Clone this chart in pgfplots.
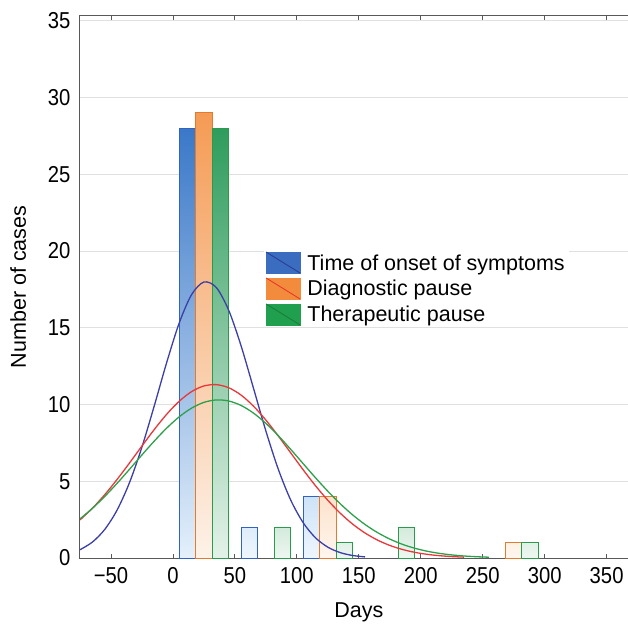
\documentclass[border=0pt]{standalone}
\usepackage{fontspec}
\setmainfont{Liberation Sans}
\newfontfamily\tickfont{Liberation Sans}[FakeStretch=0.88]
\usepackage{pgfplots}
\pgfplotsset{compat=1.18}
\definecolor{bTop}{HTML}{3A78C8}
\definecolor{bBot}{HTML}{E4F0FB}
\definecolor{bSTop}{HTML}{CDE3F7}
\definecolor{bSBot}{HTML}{EEF6FD}
\definecolor{oTop}{HTML}{F59B55}
\definecolor{oBot}{HTML}{FDF2E8}
\definecolor{oSTop}{HTML}{FCE3CC}
\definecolor{oSBot}{HTML}{FFF6EE}
\definecolor{gTop}{HTML}{2E9C5C}
\definecolor{gBot}{HTML}{E3F2E8}
\definecolor{gSTop}{HTML}{D3EADB}
\definecolor{gSBot}{HTML}{EEF7F1}
\definecolor{bEdge}{HTML}{3263C2}
\definecolor{oEdge}{HTML}{E27B2F}
\definecolor{gEdge}{HTML}{2A9B4A}
\definecolor{bLine}{HTML}{3B3FA6}
\definecolor{rLine}{HTML}{E8383A}
\definecolor{gLine}{HTML}{2EA04C}
\definecolor{bLeg}{HTML}{3A6CC0}
\definecolor{oLeg}{HTML}{F28B3C}
\definecolor{gLeg}{HTML}{20A04E}
\definecolor{bLegL}{HTML}{2A3A90}
\definecolor{oLegL}{HTML}{E8302C}
\definecolor{gLegL}{HTML}{1A7A3A}
\begin{document}
\begin{tikzpicture}
\begin{axis}[
  scale only axis, width=557.6pt, height=542pt,
  xmin=-75, xmax=375, ymin=0, ymax=35.3,
  xtick={-50,0,50,100,150,200,250,300,350},
  xticklabels={−50,0,50,100,150,200,250,300,350},
  ytick={0,5,10,15,20,25,30,35},
  yticklabels={0,5,10,15,20,25,30,35},
  ymajorgrids, grid style={black!12, line width=0.8pt},
  tick align=inside, major tick length=4pt,
  ytick style={draw=none},
  xtick style={black!65, line width=0.8pt},
  axis line style={black!65, line width=1pt},
  tick label style={font=\tickfont\fontsize{23}{27}\selectfont},
  xticklabel style={yshift=-6pt},
  yticklabel style={xshift=-6pt},
  xlabel={Days}, ylabel={Number of cases},
  label style={font=\fontsize{21.5}{25}\selectfont},
  xlabel style={yshift=-12pt},
  ylabel style={yshift=15pt},
  legend style={at={(axis cs:73,20.1)}, anchor=north west, draw=none, fill=white,
    font=\fontsize{21.5}{25}\selectfont, inner sep=2pt, row sep=4pt, column sep=5pt},
  legend cell align=left,
]
\addlegendimage{legend image code/.code={
  \fill[bLeg] (0pt,-10pt) rectangle (34pt,11pt);
  \draw[bLegL, line width=0.8pt] (0pt,11pt) -- (34pt,-10pt);}}
\addlegendentry{Time of onset of symptoms}
\addlegendimage{legend image code/.code={
  \fill[oLeg] (0pt,-10pt) rectangle (34pt,11pt);
  \draw[oLegL, line width=0.8pt] (0pt,11pt) -- (34pt,-10pt);}}
\addlegendentry{Diagnostic pause}
\addlegendimage{legend image code/.code={
  \fill[gLeg] (0pt,-10pt) rectangle (34pt,11pt);
  \draw[gLegL, line width=0.8pt] (0pt,11pt) -- (34pt,-10pt);}}
\addlegendentry{Therapeutic pause}

% bars: tall
\addplot[ybar, bar shift=0pt, bar width=13.333, draw=bEdge, line width=1pt, top color=bTop, bottom color=bBot, forget plot]
  coordinates {(11.667,28)};
\addplot[ybar, bar shift=0pt, bar width=13.333, draw=oEdge, line width=1pt, top color=oTop, bottom color=oBot, forget plot]
  coordinates {(25,29)};
\addplot[ybar, bar shift=0pt, bar width=13.333, draw=gEdge, line width=1pt, top color=gTop, bottom color=gBot, forget plot]
  coordinates {(38.333,28)};
% bars: small
\addplot[ybar, bar shift=0pt, bar width=13.333, draw=bEdge, line width=1pt, top color=bSTop, bottom color=bSBot, forget plot]
  coordinates {(61.667,2) (111.667,4)};
\addplot[ybar, bar shift=0pt, bar width=13.333, draw=oEdge, line width=1pt, top color=oSTop, bottom color=oSBot, forget plot]
  coordinates {(125,4) (275,1)};
\addplot[ybar, bar shift=0pt, bar width=13.333, draw=gEdge, line width=1pt, top color=gSTop, bottom color=gSBot, forget plot]
  coordinates {(88.333,2) (138.333,1) (188.333,2) (288.333,1)};

% fitted curves
\addplot[bLine, line width=1.3pt, smooth, forget plot] coordinates {
(-75,0.539) (-65,1.036) (-55,1.863) (-45,3.132) (-35,4.921) (-25,7.230) (-15,9.928) (-5,12.743)
(5,15.288) (15,17.147) (25,17.976) (35,17.616) (45,16.136) (55,13.817) (65,11.060)
(75,8.275) (85,5.787) (95,3.783) (105,2.312) (115,1.320) (125,0.705) (135,0.352) (145,0.164) (155,0.072)};
\addplot[rLine, line width=1.3pt, smooth, forget plot] coordinates {
(-75,2.479) (-65,3.240) (-55,4.127) (-45,5.122) (-35,6.193) (-25,7.295) (-15,8.374) (-5,9.365)
(5,10.204) (15,10.834) (25,11.206) (35,11.290) (45,11.090) (55,10.610) (65,9.891) (75,8.983)
(85,7.949) (95,6.854) (105,5.757) (115,4.712) (125,3.758) (135,2.920) (145,2.210) (155,1.630)
(165,1.171) (175,0.820) (185,0.560) (195,0.372) (205,0.241) (215,0.152) (225,0.093) (235,0.056)};
\addplot[gLine, line width=1.3pt, smooth, forget plot] coordinates {
(-75,2.547) (-65,3.233) (-55,4.012) (-45,4.870) (-35,5.782) (-25,6.713) (-15,7.621) (-5,8.463)
(5,9.190) (15,9.759) (25,10.136) (35,10.295) (45,10.227) (55,9.935) (65,9.439) (75,8.770)
(85,7.969) (95,7.081) (105,6.154) (115,5.230) (125,4.348) (135,3.534) (145,2.810) (155,2.184)
(165,1.660) (175,1.235) (185,0.898) (195,0.639) (205,0.444) (215,0.302) (225,0.201) (235,0.131)
(245,0.083) (255,0.052)};
\end{axis}
\pgfresetboundingbox
\path[use as bounding box] (-80pt,-65pt) rectangle (548pt,558pt);
\end{tikzpicture}
\end{document}
